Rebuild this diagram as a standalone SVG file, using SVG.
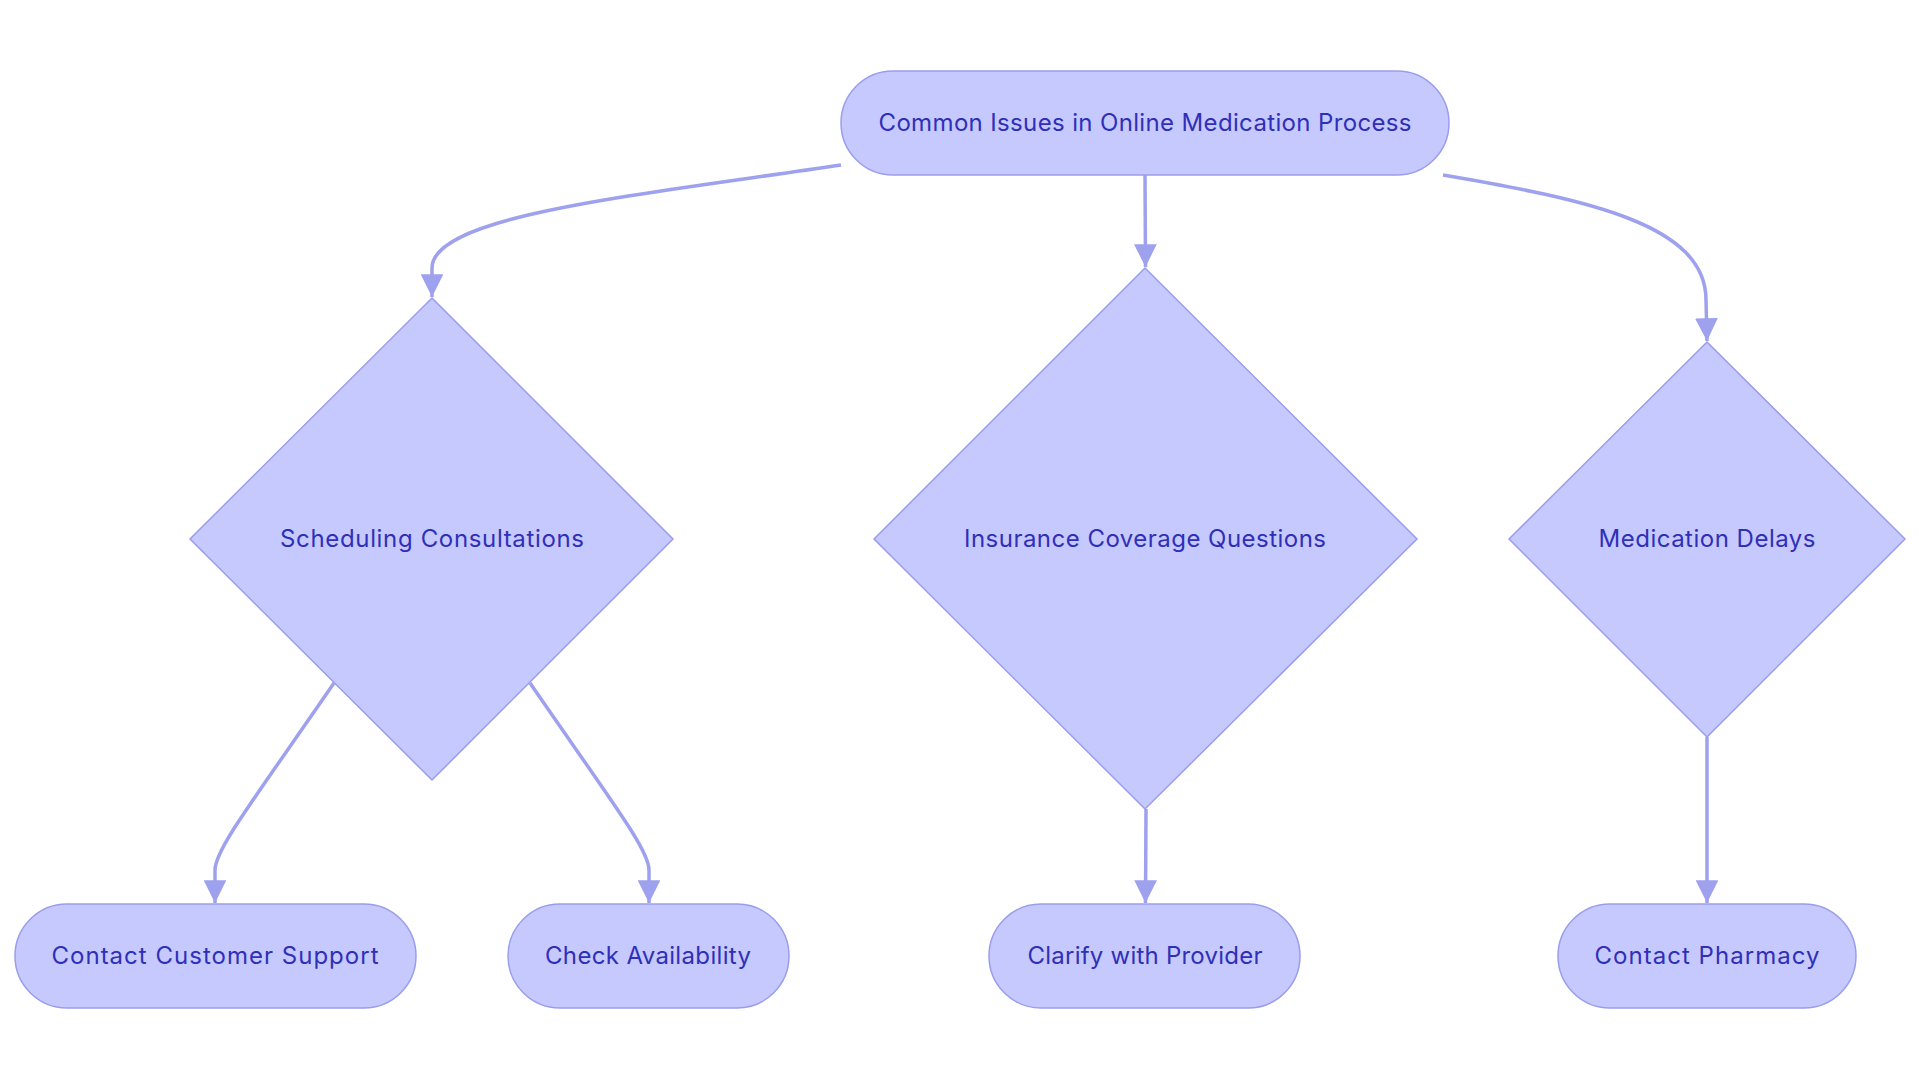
<svg xmlns="http://www.w3.org/2000/svg" width="1920" height="1083" viewBox="0 0 1920 1083">
<defs>
<style>
.node{fill:#c6c9fd;stroke:#9a9ded;stroke-width:1.5}
.lbl{font-family:Inter,"Noto Sans",sans-serif;font-size:24px;fill:#2f2fb8;text-anchor:middle;dominant-baseline:central}
.edge{fill:none;stroke:#9ea1ee;stroke-width:3.5}
</style>
<marker id="arr" viewBox="0 0 10 10" refX="10" refY="5" markerWidth="6.5" markerHeight="6.5" markerUnits="strokeWidth" orient="auto">
<path d="M0,0 L10,5 L0,10 z" fill="#9ea1ee"/>
</marker>
</defs>
<rect width="1920" height="1083" fill="#ffffff"/>
<g id="connectors">
<path class="edge" marker-end="url(#arr)" d="M841,165 C640,195 432,215 432,268 L432,297"/>
<path class="edge" marker-end="url(#arr)" d="M1145,175 L1145.5,267"/>
<path class="edge" marker-end="url(#arr)" d="M1443,175 C1590,200 1706,225 1706,300 L1707,341"/>
<path class="edge" marker-end="url(#arr)" d="M334,683 C250,805 215,850 215,870 L215,903"/>
<path class="edge" marker-end="url(#arr)" d="M530,683 C614,805 649,850 649,870 L649,903"/>
<path class="edge" marker-end="url(#arr)" d="M1146,809 L1145.5,903"/>
<path class="edge" marker-end="url(#arr)" d="M1707,737 L1707,903"/>
</g>
<g id="n-root">
<rect class="node" x="841" y="71" width="608" height="104" rx="52" ry="52"/>
<text class="lbl" x="1145" y="122" textLength="533" lengthAdjust="spacing">Common Issues in Online Medication Process</text>
</g>
<g id="n-scheduling">
<polygon class="node" points="432,298 673,539 432,780 190,539"/>
<text class="lbl" x="432" y="538" textLength="304" lengthAdjust="spacing">Scheduling Consultations</text>
</g>
<g id="n-insurance">
<polygon class="node" points="1145,268 1417,539 1145,809 874,539"/>
<text class="lbl" x="1145" y="538" textLength="362" lengthAdjust="spacing">Insurance Coverage Questions</text>
</g>
<g id="n-delays">
<polygon class="node" points="1707,342 1905,539 1707,737 1509,539"/>
<text class="lbl" x="1707" y="538" textLength="217" lengthAdjust="spacing">Medication Delays</text>
</g>
<g id="n-support">
<rect class="node" x="15" y="904" width="401" height="104" rx="52" ry="52"/>
<text class="lbl" x="215" y="955" textLength="327" lengthAdjust="spacing">Contact Customer Support</text>
</g>
<g id="n-availability">
<rect class="node" x="508" y="904" width="281" height="104" rx="52" ry="52"/>
<text class="lbl" x="648" y="955" textLength="206" lengthAdjust="spacing">Check Availability</text>
</g>
<g id="n-clarify">
<rect class="node" x="989" y="904" width="311" height="104" rx="52" ry="52"/>
<text class="lbl" x="1145" y="955" textLength="235" lengthAdjust="spacing">Clarify with Provider</text>
</g>
<g id="n-pharmacy">
<rect class="node" x="1558" y="904" width="298" height="104" rx="52" ry="52"/>
<text class="lbl" x="1707" y="955" textLength="225" lengthAdjust="spacing">Contact Pharmacy</text>
</g>
</svg>
